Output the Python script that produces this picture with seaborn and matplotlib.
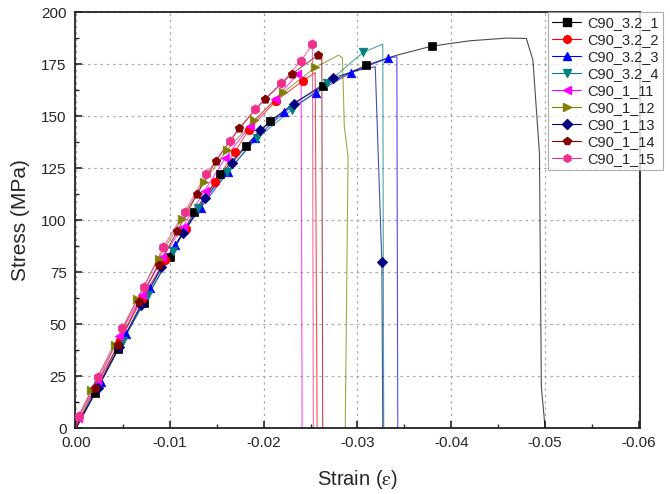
import numpy as np
import pandas as pd
import matplotlib
matplotlib.use('Agg')
import matplotlib.pyplot as plt
import seaborn as sns
from matplotlib.lines import Line2D
from matplotlib.ticker import MultipleLocator, FormatStrFormatter

# stress-strain curves (strain is negative = compression)
names = ['C90_3.2_1', 'C90_3.2_2', 'C90_3.2_3', 'C90_3.2_4', 'C90_1_11',
         'C90_1_12', 'C90_1_13', 'C90_1_14', 'C90_1_15']

s1_strain = [0, -0.0020, -0.0045, -0.0072, -0.0100, -0.0126, -0.0154, -0.0181, -0.0207, -0.0235,
             -0.0263, -0.0285, -0.0309, -0.0340, -0.0379, -0.0420, -0.0460, -0.0480, -0.0487,
             -0.0494, -0.0496, -0.0500]
s1_stress = [0, 17, 38, 60, 82, 104, 122, 135.7, 147.6, 157, 164.4, 169.5, 174.4, 179, 183.6,
             186.2, 187.5, 187.3, 177, 132, 20, 0]
s1_marks = [1, 2, 3, 4, 5, 6, 7, 8, 10, 12, 14]

s2_strain = [0, -0.0025, -0.0047, -0.0070, -0.0095, -0.0117, -0.0148, -0.0169, -0.0184, -0.0213,
             -0.0242, -0.0255, -0.0257]
s2_stress = [0, 21, 42, 62, 80.8, 95.7, 118.1, 132.5, 143.3, 157.2, 167, 171, 0]
s2_marks = [1, 2, 3, 4, 5, 6, 7, 8, 9, 10]

s3_strain = [0, -0.0027, -0.0053, -0.0079, -0.01055, -0.0133, -0.0162, -0.0191, -0.0222, -0.0256,
             -0.0293, -0.0333, -0.0342, -0.0343]
s3_stress = [0, 22.3, 45, 67.2, 88, 106, 123, 139.3, 151.8, 161.2, 170.8, 178, 178.5, 0]
s3_marks = [1, 2, 3, 4, 5, 6, 7, 8, 9, 10, 11]

s4_strain = [0, -0.0024, -0.0050, -0.0077, -0.0103, -0.0130, -0.0161, -0.0193, -0.0230, -0.0268,
             -0.0306, -0.0327, -0.0328]
s4_stress = [0, 20, 42, 64, 85, 105.6, 123.2, 139.3, 153, 166, 180.6, 184.6, 0]
s4_marks = [1, 2, 3, 4, 5, 6, 7, 8, 9, 10]

s5_strain = [0, -0.0002, -0.0022, -0.0046, -0.0070, -0.0092, -0.0114, -0.0137, -0.0159, -0.0185,
             -0.0212, -0.0236, -0.0240, -0.0241]
s5_stress = [0, 5, 21, 44, 64, 82, 96.8, 114, 129.7, 145, 158, 170, 172, 0]
s5_marks = [1, 2, 3, 4, 5, 6, 7, 8, 9, 10, 11]

s6_strain = [0, -0.0016, -0.0042, -0.0065, -0.0088, -0.01127, -0.0136, -0.0161, -0.0190, -0.0221,
             -0.0255, -0.0280, -0.0284, -0.0286, -0.0290, -0.0287]
s6_stress = [0, 18.3, 40, 62, 81.3, 100.3, 118.1, 133.7, 148, 161.4, 173.4, 179.3, 178, 144.9,
             130.4, 0]
s6_marks = [1, 2, 3, 4, 5, 6, 7, 8, 9, 10]

s7_strain = [0, -0.0023, -0.0046, -0.0069, -0.0091, -0.0114, -0.0138, -0.0166, -0.0196, -0.0232,
             -0.0274, -0.0300, -0.0319, -0.0326, -0.0327]
s7_stress = [0, 19, 39, 59, 77.5, 93.6, 110.7, 127.3, 143.3, 155.8, 168.4, 172, 173.7, 79.7, 0]
s7_marks = [1, 2, 3, 4, 5, 6, 7, 8, 9, 10, 13]

s8_strain = [0, -0.0020, -0.0045, -0.0067, -0.0088, -0.0108, -0.0129, -0.0149, -0.0174, -0.0201,
             -0.0230, -0.0258, -0.0262, -0.0263]
s8_stress = [0, 19.1, 39.9, 60.7, 78.4, 94.7, 112.4, 128.4, 144.2, 158, 170.2, 179.3, 180, 0]
s8_marks = [1, 2, 3, 4, 5, 6, 7, 8, 9, 10, 11]

s9_strain = [0, -0.0003, -0.0023, -0.0049, -0.0072, -0.0093, -0.0116, -0.0139, -0.0164, -0.0191,
             -0.0219, -0.0240, -0.0252, -0.0253]
s9_stress = [0, 6, 24.4, 47.9, 67.6, 86.9, 104, 122.1, 138, 153.4, 165.7, 176.6, 184.5, 0]
s9_marks = [1, 2, 3, 4, 5, 6, 7, 8, 9, 10, 11, 12]

colors = ['#000000', '#FF0000', '#0000FF', '#008080', '#FF00FF',
          '#808000', '#000080', '#800000', '#F0308A']
markers = ['s', 'o', '^', 'v', '<', '>', 'D', 'p', 'h']
msizes = [28, 38, 38, 38, 38, 38, 28, 42, 46]

series = [(s1_strain, s1_stress, s1_marks), (s2_strain, s2_stress, s2_marks),
          (s3_strain, s3_stress, s3_marks), (s4_strain, s4_stress, s4_marks),
          (s5_strain, s5_stress, s5_marks), (s6_strain, s6_stress, s6_marks),
          (s7_strain, s7_stress, s7_marks), (s8_strain, s8_stress, s8_marks),
          (s9_strain, s9_stress, s9_marks)]

sns.set_style('white')
plt.rcParams['font.family'] = ['Liberation Sans', 'DejaVu Sans']
plt.rcParams['mathtext.fontset'] = 'stix'

fig = plt.figure(figsize=(6.7, 4.94), dpi=100)
ax = fig.add_axes([0.112, 0.1336, 0.843, 0.842])

handles = []
for i, (x, y, mk) in enumerate(series):
    df = pd.DataFrame({'strain': x, 'stress': y})
    sns.lineplot(data=df, x='strain', y='stress', sort=False, estimator=None,
                 color=colors[i], lw=0.8, alpha=0.7, ax=ax, zorder=2)
    sns.scatterplot(data=df.iloc[mk], x='strain', y='stress', marker=markers[i],
                    color=colors[i], s=msizes[i], edgecolor=colors[i], linewidth=0.5,
                    ax=ax, zorder=3)
    handles.append(Line2D([], [], color=colors[i], lw=0.8, marker=markers[i],
                          markersize=5.5, markeredgecolor=colors[i]))

ax.set_xlim(0.0001, -0.0601)
ax.set_ylim(0, 200)
ax.xaxis.set_major_locator(MultipleLocator(0.01))
ax.xaxis.set_minor_locator(MultipleLocator(0.005))
ax.yaxis.set_major_locator(MultipleLocator(25))
ax.yaxis.set_minor_locator(MultipleLocator(12.5))
ax.xaxis.set_major_formatter(FormatStrFormatter('%.2f'))
ax.tick_params(which='major', direction='in', length=5, width=1.2, labelsize=11,
               bottom=True, left=True, top=False, right=False, pad=6)
ax.tick_params(which='minor', direction='in', length=3, width=1.0,
               bottom=True, left=True, top=False, right=False)
ax.grid(True, which='major', color='#aaaaaa', linestyle=(0, (2, 3)), linewidth=0.9)
for sp in ax.spines.values():
    sp.set_color('#222222')
    sp.set_linewidth(1.3)

ax.set_xlabel(r'Strain ($\mathrm{\varepsilon}$)', fontsize=14.5, labelpad=13)
ax.set_ylabel('Stress (MPa)', fontsize=15, labelpad=8)

leg = ax.legend(handles, names, loc='upper left', bbox_to_anchor=(0.837, 1.0),
                borderaxespad=0, fontsize=10.5, frameon=True, fancybox=False,
                handlelength=2.0, labelspacing=0.2, borderpad=0.3, handletextpad=0.4)
leg.get_frame().set_edgecolor('#999999')
leg.get_frame().set_linewidth(0.8)
leg.set_zorder(10)

fig.savefig('out.png', dpi=100)
